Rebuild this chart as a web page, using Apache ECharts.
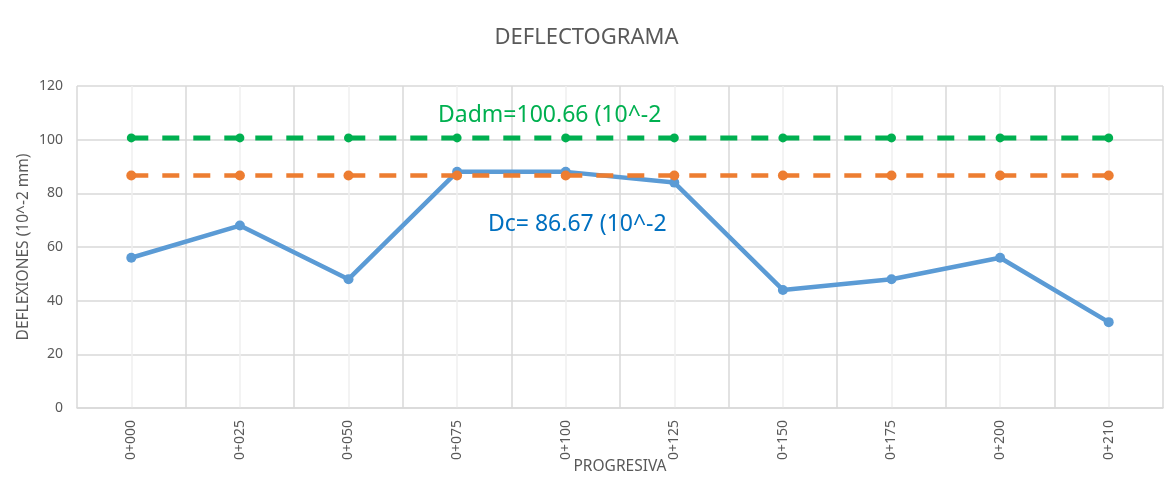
<!DOCTYPE html>
<html>
<head>
<meta charset="utf-8">
<style>
  html, body { margin: 0; padding: 0; background: #ffffff; }
  #chart { width: 1173px; height: 477px; }
</style>
<script src="https://cdn.jsdelivr.net/npm/echarts@6/dist/echarts.min.js"></script>
</head>
<body>
<div id="chart"></div>
<script>
// Stations along the road
const progresivas = ['0+000', '0+025', '0+050', '0+075', '0+100', '0+125', '0+150', '0+175', '0+200', '0+210'];
// Measured deflections (10^-2 mm)
const deflexiones = [56, 68, 48, 88, 88, 84, 44, 48, 56, 32];
// Characteristic deflection Dc
const deflexionCaracteristica = [86.67, 86.67, 86.67, 86.67, 86.67, 86.67, 86.67, 86.67, 86.67, 86.67];
// Admissible deflection Dadm
const deflexionAdmisible = [100.66, 100.66, 100.66, 100.66, 100.66, 100.66, 100.66, 100.66, 100.66, 100.66];
// Y axis ticks
const yTicks = { min: 0, max: 120, interval: 20 };

const FONT = 'Noto Sans';
const GREY = '#595959';
const GRID = '#D9D9D9';

const chart = echarts.init(document.getElementById('chart'), null, { renderer: 'canvas' });

chart.setOption({
  backgroundColor: '#ffffff',
  animation: false,
  textStyle: { fontFamily: FONT },
  title: {
    text: 'DEFLECTOGRAMA',
    left: 'center',
    top: 22,
    textStyle: { fontFamily: FONT, fontSize: 22, fontWeight: 'normal', color: GREY }
  },
  grid: { left: 77, right: 10, top: 86, bottom: 69, containLabel: false, outerBoundsMode: 'none' },
  xAxis: [
    {
      type: 'category',
      data: progresivas,
      boundaryGap: true,
      name: 'PROGRESIVA',
      nameLocation: 'middle',
      nameGap: 51,
      nameMoveOverlap: false,
      nameTextStyle: { fontFamily: FONT, fontSize: 15.5, color: GREY },
      axisLine: { show: true, lineStyle: { color: GRID, width: 1.5 } },
      axisTick: { show: false },
      axisLabel: { rotate: 90, margin: 12, fontSize: 14, color: GREY, fontFamily: FONT, interval: 0 },
      splitLine: { show: false }
    },
    {
      // helper axis drawing the vertical grid: major lines between stations, light lines through them
      type: 'value',
      position: 'top',
      min: -0.5,
      max: 9.5,
      interval: 0.5,
      axisLine: { show: false },
      axisTick: { show: false },
      axisLabel: { show: false },
      splitLine: { show: true, lineStyle: { color: [GRID, '#EFEFEF'], width: 1.5 } }
    }
  ],
  yAxis: {
    type: 'value',
    min: yTicks.min,
    max: yTicks.max,
    interval: yTicks.interval,
    name: 'DEFLEXIONES (10^-2 mm)',
    nameLocation: 'middle',
    nameGap: 45,
    nameMoveOverlap: false,
    nameTextStyle: { fontFamily: FONT, fontSize: 15.5, color: GREY },
    axisLine: { show: false },
    axisTick: { show: false },
    axisLabel: { fontSize: 14, color: GREY, fontFamily: FONT, margin: 14 },
    splitLine: { show: true, lineStyle: { color: GRID, width: 1.5 } }
  },
  series: [
    {
      name: 'Deflexión',
      type: 'line',
      xAxisIndex: 0,
      data: deflexiones,
      symbol: 'circle',
      symbolSize: 10,
      itemStyle: { color: '#5B9BD5' },
      lineStyle: { color: '#5B9BD5', width: 4.5 },
      z: 2
    },
    {
      name: 'Dc',
      type: 'line',
      xAxisIndex: 0,
      data: deflexionCaracteristica,
      symbol: 'circle',
      symbolSize: 10,
      itemStyle: { color: '#ED7D31' },
      lineStyle: { color: '#ED7D31', width: 4.5, type: [17, 14] },
      z: 3
    },
    {
      name: 'Dadm',
      type: 'line',
      xAxisIndex: 0,
      data: deflexionAdmisible,
      symbol: 'circle',
      symbolSize: 9,
      itemStyle: { color: '#00B050' },
      lineStyle: { color: '#00B050', width: 5, type: [17, 14] },
      z: 4
    }
  ],
  graphic: [
    {
      type: 'text',
      left: 438,
      top: 104,
      style: { text: 'Dadm=100.66 (10^-2', fill: '#00B050', font: '23px "Noto Sans"' },
      z: 10
    },
    {
      type: 'text',
      left: 488,
      top: 213,
      style: { text: 'Dc= 86.67 (10^-2', fill: '#0070C0', font: '23px "Noto Sans"' },
      z: 10
    }
  ]
});
</script>
</body>
</html>
